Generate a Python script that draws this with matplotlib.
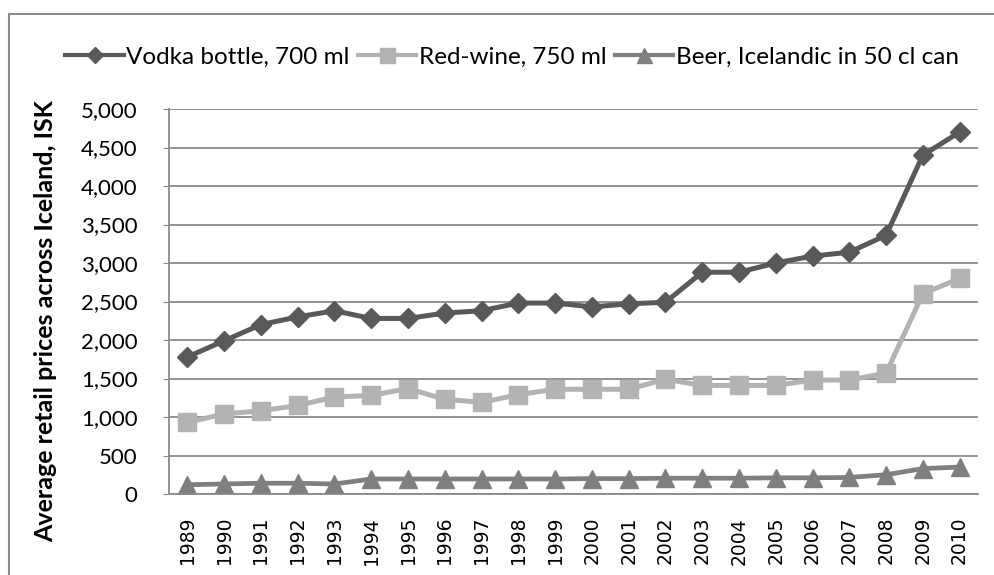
import matplotlib
matplotlib.use('Agg')
from matplotlib import pyplot as plt
from matplotlib.lines import Line2D
from matplotlib.ticker import FuncFormatter

years = [str(y) for y in range(1989, 2011)]
vodka = [1780, 1990, 2200, 2300, 2380, 2280, 2280, 2350, 2380, 2480, 2480,
         2430, 2470, 2490, 2880, 2880, 3000, 3090, 3140, 3360, 4400, 4700]
wine = [930, 1040, 1080, 1150, 1260, 1280, 1370, 1230, 1190, 1290, 1360,
        1360, 1360, 1490, 1410, 1410, 1410, 1480, 1480, 1570, 2600, 2800]
beer = [120, 130, 140, 140, 130, 195, 195, 195, 195, 195, 195,
        200, 200, 205, 205, 205, 210, 210, 215, 250, 330, 350]

W, H = 995, 575
fig = plt.figure(figsize=(W / 100, H / 100), dpi=100)
ax = fig.add_axes([169 / W, 1 - 494 / H, (978 - 169) / W, (494 - 109) / H])

x = list(range(len(years)))
grid_col = '#8a8a8a'
ax.plot(x, vodka, color='#595959', lw=3.6, marker='D', ms=10, label='Vodka bottle, 700 ml')
ax.plot(x, wine, color='#b3b3b3', lw=3.6, marker='s', ms=13.5, label='Red-wine, 750 ml')
ax.plot(x, beer, color='#7f7f7f', lw=3.4, marker='^', ms=13.5, label='Beer, Icelandic in 50 cl can')

ax.set_xlim(-0.5, len(years) - 0.5)
ax.set_ylim(0, 5000)
ax.set_yticks(range(0, 5001, 500))
ax.yaxis.set_major_formatter(FuncFormatter(lambda v, p: f'{int(v):,}'))
ax.set_xticks(x)
ax.set_xticklabels(years, rotation=90, family='DejaVu Sans', fontsize=13.5)
for lab in ax.get_yticklabels():
    lab.set_family('Lato')
    lab.set_fontsize(16)

ax.grid(axis='y', color=grid_col, lw=1.3)
ax.set_axisbelow(True)
for s in ['top', 'right']:
    ax.spines[s].set_visible(False)
for s in ['left', 'bottom']:
    ax.spines[s].set_color(grid_col)
    ax.spines[s].set_linewidth(1.3)
ax.tick_params(axis='y', length=4, color=grid_col, pad=18.5, labelcolor='black')
ax.tick_params(axis='x', length=0, pad=16.5)

ax.set_ylabel('Average retail prices across Iceland, ISK', family='Lato',
              fontweight='bold', fontsize=18)
ax.yaxis.set_label_coords((57 - 169) / (978 - 169), 0.45)

leg = fig.legend(loc='center', bbox_to_anchor=(512 / W, 1 - 57 / H), ncol=3,
                 frameon=False, prop={'family': 'Lato', 'size': 17.5},
                 handlelength=2.4, handletextpad=0.1, columnspacing=0.35,
                 markerscale=0.8)
for h in leg.legend_handles:
    h.set_linewidth(3.0)

# outer chart frame (only top and left edges visible)
fig.add_artist(Line2D([9 / W, 9 / W], [0, 1 - 14 / H], transform=fig.transFigure, color='#8c8c8c', lw=1.5))
fig.add_artist(Line2D([9 / W, 1], [1 - 14 / H, 1 - 14 / H], transform=fig.transFigure, color='#8c8c8c', lw=1.5))

fig.savefig('out.png', dpi=100)
